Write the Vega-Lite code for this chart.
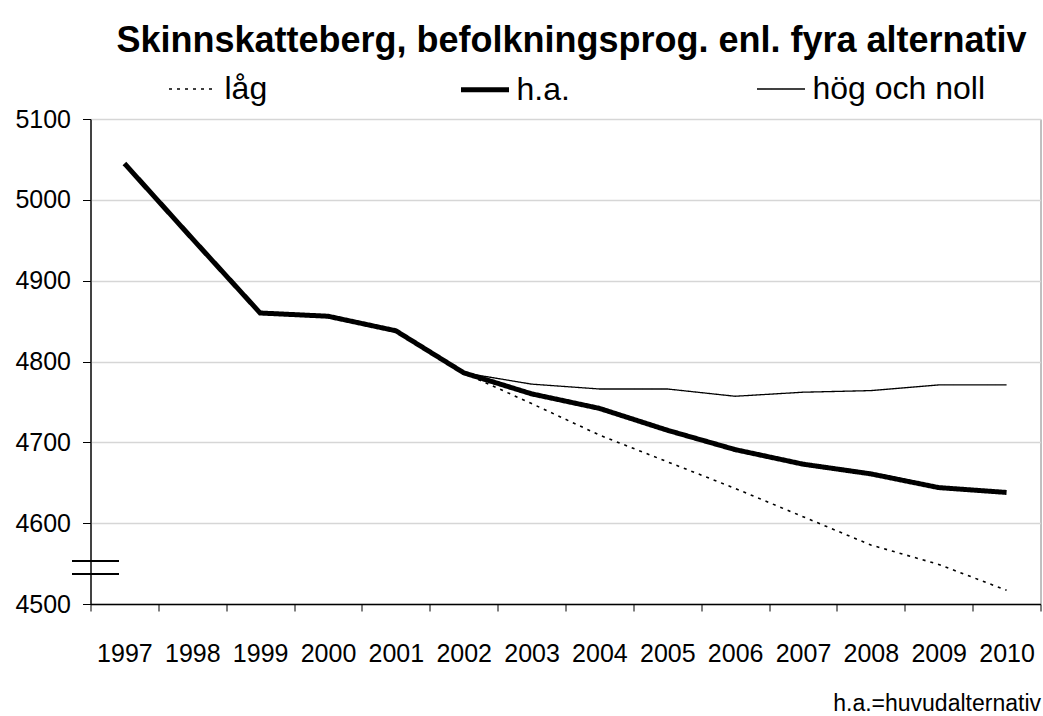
{
  "$schema": "https://vega.github.io/schema/vega-lite/v6.json",
  "width": 950,
  "height": 485,
  "autosize": {"type": "none"},
  "padding": {"left": 90.5, "top": 119, "right": 2.5, "bottom": 112},
  "background": "white",
  "title": {
    "text": "Skinnskatteberg, befolkningsprog. enl. fyra alternativ",
    "font": "Liberation Sans",
    "fontSize": 36,
    "fontWeight": "bold",
    "color": "black",
    "anchor": "middle",
    "frame": "group",
    "baseline": "alphabetic",
    "dx": 6,
    "dy": 35,
    "offset": 10
  },
  "data": {
    "values": [
      {"year": "1997", "alt": "h.a.", "value": 5045},
      {"year": "1998", "alt": "h.a.", "value": 4952},
      {"year": "1999", "alt": "h.a.", "value": 4860},
      {"year": "2000", "alt": "h.a.", "value": 4856},
      {"year": "2001", "alt": "h.a.", "value": 4838},
      {"year": "2002", "alt": "h.a.", "value": 4786},
      {"year": "2003", "alt": "h.a.", "value": 4760},
      {"year": "2004", "alt": "h.a.", "value": 4742},
      {"year": "2005", "alt": "h.a.", "value": 4715},
      {"year": "2006", "alt": "h.a.", "value": 4691},
      {"year": "2007", "alt": "h.a.", "value": 4673},
      {"year": "2008", "alt": "h.a.", "value": 4661},
      {"year": "2009", "alt": "h.a.", "value": 4644},
      {"year": "2010", "alt": "h.a.", "value": 4638},
      {"year": "2002", "alt": "låg", "value": 4786},
      {"year": "2003", "alt": "låg", "value": 4748},
      {"year": "2004", "alt": "låg", "value": 4709},
      {"year": "2005", "alt": "låg", "value": 4676},
      {"year": "2006", "alt": "låg", "value": 4643},
      {"year": "2007", "alt": "låg", "value": 4608},
      {"year": "2008", "alt": "låg", "value": 4573},
      {"year": "2009", "alt": "låg", "value": 4549},
      {"year": "2010", "alt": "låg", "value": 4517},
      {"year": "2002", "alt": "hög och noll", "value": 4786},
      {"year": "2003", "alt": "hög och noll", "value": 4772},
      {"year": "2004", "alt": "hög och noll", "value": 4766},
      {"year": "2005", "alt": "hög och noll", "value": 4766},
      {"year": "2006", "alt": "hög och noll", "value": 4757},
      {"year": "2007", "alt": "hög och noll", "value": 4762},
      {"year": "2008", "alt": "hög och noll", "value": 4764},
      {"year": "2009", "alt": "hög och noll", "value": 4771},
      {"year": "2010", "alt": "hög och noll", "value": 4771}
    ]
  },
  "layer": [
    {
      "mark": {"type": "line", "color": "black", "strokeCap": "butt"},
      "encoding": {
        "x": {
          "field": "year",
          "type": "ordinal",
          "bandPosition": 0.5,
          "scale": {"type": "band", "paddingInner": 0, "paddingOuter": 0},
          "axis": {
            "title": "h.a.=huvudalternativ",
            "titleFont": "Liberation Sans",
            "titleFontSize": 23,
            "titleFontWeight": "normal",
            "titleColor": "black",
            "titleAlign": "right",
            "titleBaseline": "alphabetic",
            "titleX": 950,
            "titleY": 106,
            "labelAngle": 0,
            "labelFont": "Liberation Sans",
            "labelFontSize": 25,
            "labelColor": "black",
            "labelPadding": 30,
            "tickBand": "extent",
            "tickSize": 7,
            "tickColor": "black",
            "domainColor": "black",
            "domainWidth": 1.3,
            "grid": false
          }
        },
        "y": {
          "field": "value",
          "type": "quantitative",
          "scale": {"domain": [4500, 5100], "nice": false, "zero": false},
          "axis": {
            "title": null,
            "format": "d",
            "values": [4500, 4600, 4700, 4800, 4900, 5000, 5100],
            "labelFont": "Liberation Sans",
            "labelFontSize": 25,
            "labelColor": "black",
            "labelPadding": 12,
            "tickSize": 8,
            "tickColor": "black",
            "domainColor": "black",
            "domainWidth": 1.3,
            "grid": true,
            "gridColor": "#d6d6d6",
            "gridWidth": 1.5
          }
        },
        "strokeWidth": {
          "field": "alt",
          "type": "nominal",
          "scale": {"type": "ordinal", "domain": ["låg", "h.a.", "hög och noll"], "range": [1.6, 5, 1.3]},
          "legend": {"title": null}
        },
        "strokeDash": {
          "field": "alt",
          "type": "nominal",
          "scale": {"domain": ["låg", "h.a.", "hög och noll"], "range": [[3, 5], [1, 0], [1, 0]]},
          "legend": {"title": null}
        }
      }
    },
    {
      "mark": {"type": "rule", "color": "black", "strokeWidth": 1.2, "xOffset": -52, "x2Offset": -6},
      "encoding": {
        "x": {"datum": "1997", "type": "ordinal"},
        "x2": {"datum": "1997"},
        "y": {"datum": 4553, "type": "quantitative"}
      }
    },
    {
      "mark": {"type": "rule", "color": "black", "strokeWidth": 1.2, "xOffset": -52, "x2Offset": -6},
      "encoding": {
        "x": {"datum": "1997", "type": "ordinal"},
        "x2": {"datum": "1997"},
        "y": {"datum": 4537, "type": "quantitative"}
      }
    }
  ],
  "config": {
    "view": {"stroke": "#808080", "strokeWidth": 1},
    "legend": {
      "orient": "none",
      "legendX": 76,
      "legendY": -56,
      "direction": "horizontal",
      "columns": 3,
      "columnPadding": 183,
      "labelFont": "Liberation Sans",
      "labelFontSize": 32,
      "labelLimit": 400,
      "labelColor": "black",
      "labelOffset": 5,
      "symbolType": "stroke",
      "symbolSize": 2304,
      "symbolStrokeColor": "black",
      "padding": 0
    }
  }
}
